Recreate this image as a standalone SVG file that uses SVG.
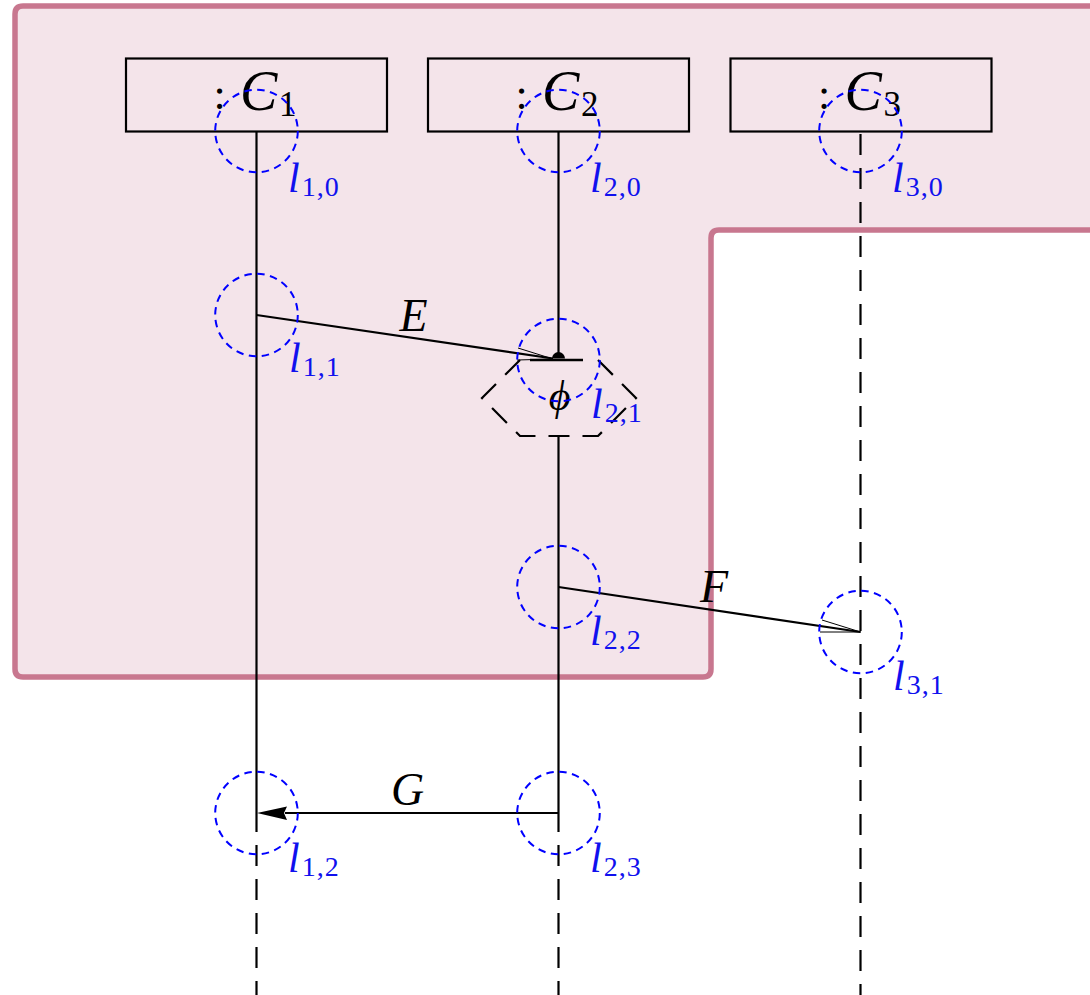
<svg xmlns="http://www.w3.org/2000/svg" width="1090" height="995" viewBox="0 0 1090 995">
<style>
.region{fill:#f4e4ea;stroke:#c8778f;stroke-width:5.5;stroke-linejoin:round}
.box{fill:none;stroke:#000;stroke-width:2.2}
.life{fill:none;stroke:#000;stroke-width:2.2}
.dash{stroke-dasharray:21 13}
.msg{fill:none;stroke:#000;stroke-width:2.2}
.barb{fill:none;stroke:#000;stroke-width:1}
.loc{fill:none;stroke:#0000ff;stroke-width:2;stroke-dasharray:7.5 5.5}
.math{font-family:"Liberation Serif","DejaVu Serif",serif;font-style:italic;fill:#000}
.up{font-family:"Liberation Serif","DejaVu Serif",serif;font-style:normal;fill:#000}
.lab{font-family:"Liberation Serif","DejaVu Serif",serif;font-style:italic;font-size:42px;fill:#1010ee}
.sub{font-style:normal;font-size:28px;letter-spacing:1px}
.hex{fill:none;stroke:#000;stroke-width:2.2;stroke-dasharray:21 13}
</style>
<path class="region" d="M23,6 H1100 V230 H719 Q711,230 711,238 V669 Q711,677 703,677 H23 Q15,677 15,669 V14 Q15,6 23,6 Z"/>

<g id="C1">
<rect class="box" x="126" y="58.5" width="261" height="73"/>
<text class="up" x="219.5" y="109" font-size="44" text-anchor="middle">:</text>
<text class="math" x="240" y="110" font-size="56">C</text>
<text class="up" x="279" y="116" font-size="35">1</text>
</g>
<g id="C2">
<rect class="box" x="428" y="58.5" width="261" height="73"/>
<text class="up" x="521.5" y="109" font-size="44" text-anchor="middle">:</text>
<text class="math" x="542" y="110" font-size="56">C</text>
<text class="up" x="581" y="116" font-size="35">2</text>
</g>
<g id="C3">
<rect class="box" x="730.5" y="58.5" width="261" height="73"/>
<text class="up" x="824" y="109" font-size="44" text-anchor="middle">:</text>
<text class="math" x="844.5" y="110" font-size="56">C</text>
<text class="up" x="883.5" y="116" font-size="35">3</text>
</g>

<g id="lifelines">
<line class="life" x1="256.5" y1="131.5" x2="256.5" y2="832"/>
<line class="life dash" x1="256.5" y1="845" x2="256.5" y2="995"/>
<line class="life" x1="558.5" y1="131.5" x2="558.5" y2="358"/>
<line class="life" x1="558.5" y1="436" x2="558.5" y2="832"/>
<line class="life dash" x1="558.5" y1="845" x2="558.5" y2="995"/>
<line class="life dash" x1="860.5" y1="134" x2="860.5" y2="995"/>
</g>

<g id="phi">
<path class="hex" d="M598,360 L636,398 L598,436 L520,436 L482,398 L520,360"/>
<line x1="530" y1="360" x2="583" y2="360" stroke="#000" stroke-width="2.4"/>
<text class="math" x="559.5" y="410" font-size="42" text-anchor="middle">ϕ</text>
</g>

<g id="connectors">
<g id="E">
<line class="msg" x1="256.5" y1="315" x2="553" y2="358.5"/>
<path class="barb" d="M518,348 L553,359 L517,360"/>
<path d="M552,358.5 A6.5,6.5 0 0 1 565,358.5 Z" fill="#000"/>
<text class="math" x="413.5" y="331" font-size="46" text-anchor="middle">E</text>
</g>
<g id="F">
<line class="msg" x1="558.5" y1="587" x2="860.5" y2="632"/>
<path class="barb" d="M822,620 L860.5,632 L820,632"/>
<text class="math" x="714" y="602" font-size="46" text-anchor="middle">F</text>
</g>
<g id="G">
<line class="msg" x1="558.5" y1="813" x2="285" y2="813"/>
<path d="M257,813 L287,806.5 L284,813 L287,820 Z" fill="#000"/>
<text class="math" x="407.5" y="805" font-size="46" text-anchor="middle">G</text>
</g>
</g>

<g id="l10"><circle class="loc" cx="256.5" cy="131" r="41.3"/><text class="lab" x="288" y="192">l<tspan class="sub" dx="2" dy="4">1,0</tspan></text></g>
<g id="l20"><circle class="loc" cx="558.5" cy="131" r="41.3"/><text class="lab" x="590" y="192">l<tspan class="sub" dx="2" dy="4">2,0</tspan></text></g>
<g id="l30"><circle class="loc" cx="860.5" cy="131" r="41.3"/><text class="lab" x="892" y="192">l<tspan class="sub" dx="2" dy="4">3,0</tspan></text></g>
<g id="l11"><circle class="loc" cx="256.5" cy="315" r="41.3"/><text class="lab" x="289" y="372">l<tspan class="sub" dx="2" dy="4">1,1</tspan></text></g>
<g id="l21"><circle class="loc" cx="558.5" cy="360" r="41.3"/><text class="lab" x="591" y="418">l<tspan class="sub" dx="2" dy="4">2,1</tspan></text></g>
<g id="l22"><circle class="loc" cx="558.5" cy="587" r="41.3"/><text class="lab" x="590" y="645">l<tspan class="sub" dx="2" dy="4">2,2</tspan></text></g>
<g id="l31"><circle class="loc" cx="860.5" cy="632" r="41.3"/><text class="lab" x="893" y="690">l<tspan class="sub" dx="2" dy="4">3,1</tspan></text></g>
<g id="l12"><circle class="loc" cx="256.5" cy="813" r="41.3"/><text class="lab" x="288" y="872">l<tspan class="sub" dx="2" dy="4">1,2</tspan></text></g>
<g id="l23"><circle class="loc" cx="558.5" cy="813" r="41.3"/><text class="lab" x="590" y="872">l<tspan class="sub" dx="2" dy="4">2,3</tspan></text></g>
</svg>
